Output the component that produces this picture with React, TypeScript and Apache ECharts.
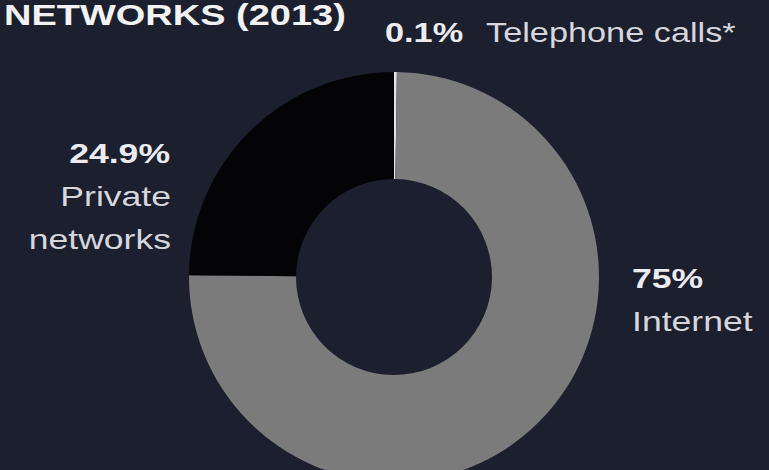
import React, { useEffect, useRef } from "react";
import * as echarts from "echarts";

const categories = ["Telephone calls*", "Internet", "Private networks"];
const values = [0.1, 75, 24.9];
const sliceColors = ["#e4e4e4", "#7b7b7b", "#040406"];
const titleText = "NETWORKS (2013)";

const BG = "#1b1f2e";
const SX = 1.27;

export default function App() {
  const ref = useRef<HTMLDivElement>(null);
  useEffect(() => {
    document.body.style.margin = "0";
    const chart = echarts.init(ref.current!, null, { renderer: "svg" });
    const pct = (i: number) => `${values[i]}%`;
    const bold = { fontFamily: "Liberation Sans", fontWeight: "bold", fontSize: 28, fill: "#ececf0" };
    const reg = { fontFamily: "Liberation Sans", fontWeight: "normal", fontSize: 28, fill: "#d6d6dc" };
    chart.setOption({
      animation: false,
      backgroundColor: BG,
      series: [
        {
          type: "pie",
          center: [394, 277],
          radius: [98, 205],
          startAngle: 90,
          clockwise: true,
          minAngle: 0.8,
          silent: true,
          label: { show: false },
          labelLine: { show: false },
          itemStyle: { borderWidth: 0 },
          data: categories.map((c, i) => ({
            name: c,
            value: values[i],
            itemStyle: { color: sliceColors[i] },
          })),
        },
      ],
      graphic: [
        {
          type: "text",
          x: 4,
          y: 15,
          scaleX: 1.31,
          style: {
            text: titleText,
            fontFamily: "Liberation Sans",
            fontWeight: "bold",
            fontSize: 29,
            fill: "#f2f2f4",
            align: "left",
            verticalAlign: "middle",
          },
        },
        {
          type: "text",
          x: 385,
          y: 33,
          scaleX: SX,
          style: { text: pct(0), ...bold, fontSize: 27, align: "left", verticalAlign: "middle" },
        },
        {
          type: "text",
          x: 486,
          y: 33,
          scaleX: SX,
          style: { text: categories[0], ...reg, fontSize: 27, align: "left", verticalAlign: "middle" },
        },
        {
          type: "text",
          x: 170,
          y: 153,
          scaleX: SX,
          style: { text: pct(2), ...bold, align: "right", verticalAlign: "middle" },
        },
        {
          type: "text",
          x: 171,
          y: 196,
          scaleX: SX,
          style: { text: categories[2].split(" ")[0], ...reg, align: "right", verticalAlign: "middle" },
        },
        {
          type: "text",
          x: 171,
          y: 239,
          scaleX: SX,
          style: { text: categories[2].split(" ")[1], ...reg, align: "right", verticalAlign: "middle" },
        },
        {
          type: "text",
          x: 632,
          y: 278,
          scaleX: SX,
          style: { text: pct(1), ...bold, align: "left", verticalAlign: "middle" },
        },
        {
          type: "text",
          x: 632,
          y: 321,
          scaleX: SX,
          style: { text: categories[1], ...reg, align: "left", verticalAlign: "middle" },
        },
      ],
    });
    return () => chart.dispose();
  }, []);
  return <div ref={ref} style={{ width: 769, height: 470 }} />;
}
